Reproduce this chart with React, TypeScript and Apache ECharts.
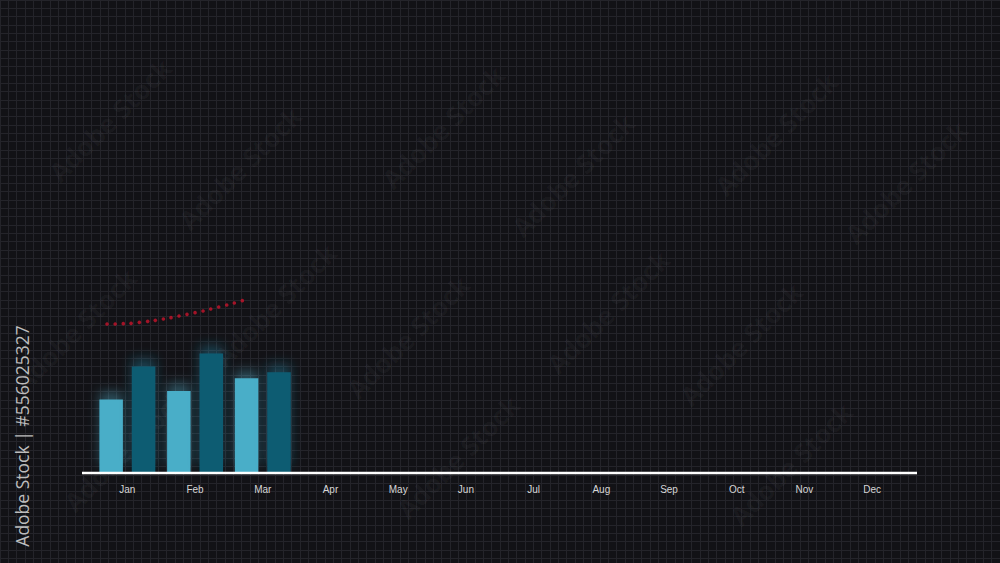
import React, { useEffect, useRef } from "react";
import * as echarts from "echarts";

const months = ["Jan", "Feb", "Mar", "Apr", "May", "Jun", "Jul", "Aug", "Sep", "Oct", "Nov", "Dec"];
const lightBars = [18.4, 20.5, 23.7, null, null, null, null, null, null, null, null, null];
const darkBars = [26.6, 29.9, 25.2, null, null, null, null, null, null, null, null, null];
const trendX = [-0.3, -0.18, -0.06, 0.055, 0.177, 0.3, 0.413, 0.532, 0.645, 0.763, 0.881, 1.0, 1.118, 1.231, 1.349, 1.468, 1.58, 1.698];
const trendY = [37.25, 37.25, 37.33, 37.42, 37.67, 37.92, 38.17, 38.5, 38.83, 39.25, 39.67, 40.08, 40.5, 41.0, 41.5, 42.0, 42.5, 43.08];

const watermarkBases = [
  [110, 120], [240, 168], [75, 330], [275, 305], [125, 450],
];

export default function App() {
  const ref = useRef<HTMLDivElement>(null);
  useEffect(() => {
    if (!ref.current) return;
    document.body.style.margin = "0";
    document.body.style.background = "#121216";
    const chart = echarts.init(ref.current, null, { renderer: "svg" });
    const marks: any[] = [];
    for (const [bx, by] of watermarkBases) {
      for (let k = -1; k <= 3; k++) {
        const x = bx + 333 * k;
        const y = by + 7 * k;
        if (x < 62 || x > 938 || y < 62 || y > 500) continue;
        marks.push({
          type: "text",
          x,
          y,
          rotation: Math.PI / 4,
          silent: true,
          z: 1,
          style: {
            text: "Adobe Stock",
            fill: "rgba(255,255,255,0.045)",
            font: "bold 26px 'Open Sans', sans-serif",
            align: "center",
            verticalAlign: "middle",
          },
        });
      }
    }
    marks.push({
      type: "line",
      z: 5,
      shape: { x1: 82, y1: 473, x2: 917, y2: 473 },
      style: { stroke: "#ffffff", lineWidth: 2.5 },
    });
    marks.push({
      type: "text",
      x: 22,
      y: 436,
      rotation: Math.PI / 2,
      z: 6,
      style: {
        text: "Adobe Stock | #556025327",
        fill: "#bdbdbd",
        font: "17.5px 'Open Sans', sans-serif",
        align: "center",
        verticalAlign: "middle",
      },
    });

    const option: any = {
      animation: false,
      backgroundColor: "#121216",
      grid: [
        { left: 93.5, right: 94, top: 73, bottom: 90 },
        { left: 0, right: 0, top: 0, bottom: 0, z: 0 },
      ],
      xAxis: [
        {
          type: "category",
          data: months,
          gridIndex: 0,
          axisLine: { show: false },
          axisTick: { show: false },
          axisLabel: { color: "#d6d6d6", fontSize: 10, margin: 11, fontFamily: "'Liberation Sans', Arial, sans-serif" },
          splitLine: { show: false },
        },
        { type: "value", gridIndex: 0, min: -0.5, max: 11.5, show: false },
        {
          type: "value",
          gridIndex: 1,
          min: 0,
          max: 120,
          interval: 1,
          axisLine: { show: false },
          axisTick: { show: false },
          axisLabel: { show: false },
          splitLine: { show: true, lineStyle: { color: "#24242a", width: 1 } },
        },
      ],
      yAxis: [
        { type: "value", gridIndex: 0, min: 0, max: 100, show: false },
        {
          type: "value",
          gridIndex: 1,
          min: 0,
          max: 563 / 8.3333,
          interval: 1,
          inverse: true,
          axisLine: { show: false },
          axisTick: { show: false },
          axisLabel: { show: false },
          splitLine: { show: true, lineStyle: { color: "#24242a", width: 1 } },
        },
      ],
      graphic: marks,
      series: [
        {
          type: "bar",
          xAxisIndex: 0,
          yAxisIndex: 0,
          data: lightBars,
          barWidth: 23.5,
          barGap: "38%",
          z: 3,
          itemStyle: {
            color: "#4aaec8",
            shadowColor: "rgba(90,190,220,0.35)",
            shadowBlur: 12,
            shadowOffsetY: -8,
          },
        },
        {
          type: "bar",
          xAxisIndex: 0,
          yAxisIndex: 0,
          data: darkBars,
          barWidth: 23.5,
          z: 3,
          itemStyle: {
            color: "#0b5b72",
            shadowColor: "rgba(40,150,185,0.35)",
            shadowBlur: 12,
            shadowOffsetY: -8,
          },
        },
        {
          type: "scatter",
          xAxisIndex: 1,
          yAxisIndex: 0,
          data: trendX.map((x, i) => [x, trendY[i]]),
          symbol: "circle",
          symbolSize: 3.6,
          z: 4,
          itemStyle: { color: "#c8142c" },
        },
      ],
    };
    chart.setOption(option);
    return () => chart.dispose();
  }, []);
  return <div ref={ref} style={{ width: 1000, height: 563 }} />;
}
